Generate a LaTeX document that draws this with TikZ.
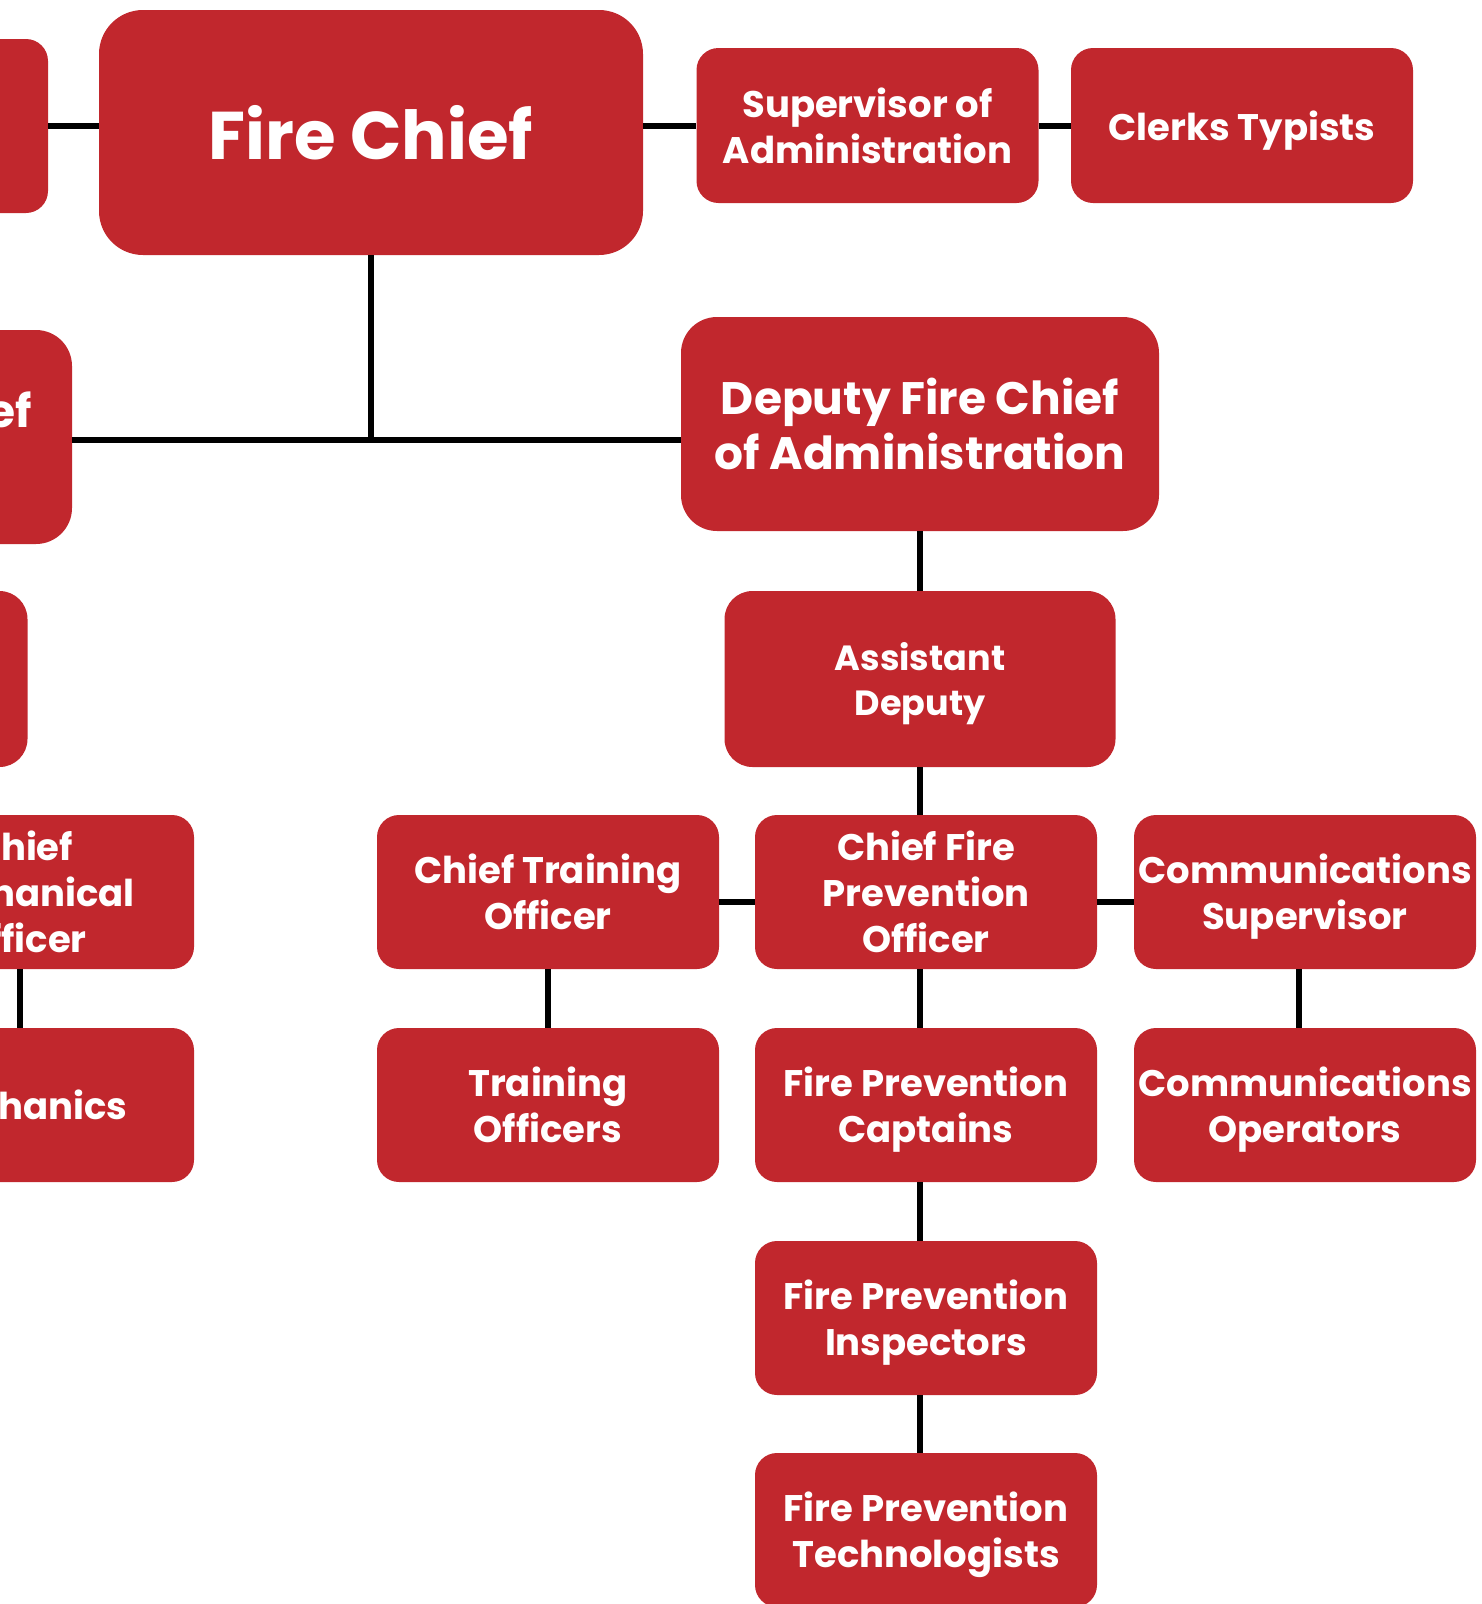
\documentclass[tikz,border=0pt]{standalone}
\usepackage{fontspec}
\setmainfont{Poppins}
\usetikzlibrary{positioning}
\definecolor{firered}{RGB}{193,39,45}

\begin{document}
\begin{tikzpicture}[
    x=1pt, y=-1pt,
    % Style definitions
    post/.style={
        rectangle, rounded corners=22pt, fill=firered, text=white,
        minimum width=342pt, minimum height=154pt, inner sep=0pt,
        text depth=0pt,
        font=\bfseries\fontsize{37}{46}\selectfont, align=center
    },
    office/.style={
        post, minimum height=155pt,
        font=\bfseries\fontsize{37}{46}\selectfont
    },
    chiefpost/.style={
        post, rounded corners=44pt,
        minimum width=544pt, minimum height=245pt,
        font=\bfseries\fontsize{67.5}{75}\selectfont
    },
    deputypost/.style={
        post, rounded corners=36pt,
        minimum width=478pt, minimum height=214pt,
        font=\bfseries\fontsize{45.5}{55}\selectfont
    },
    assistpost/.style={
        post, rounded corners=28pt,
        minimum width=391pt, minimum height=176pt,
        font=\bfseries\fontsize{35}{45}\selectfont
    },
    link/.style={
        line width=6pt, black
    },
]

% Canvas
\useasboundingbox (0,0) rectangle (1482,1604);
\clip (0,0) rectangle (1482,1604);

% Column positions
\def\colM{23}
\def\colA{548}
\def\colB{926}
\def\colC{1305}

% Row positions (top to bottom)
\def\rowC{892}
\def\rowD{1105}
\def\rowE{1318}
\def\rowF{1530}

% === Top row ===
\node[office, minimum height=174pt] (leftup) at (-123,126) {};
\node[chiefpost] (chief) at (371,132.5) {Fire Chief};
\node[office] (supadmin) at (867.5,125.5) {Supervisor of\\Administration};
\node[office] (clerks) at (1242,125.5) {Clerks Typists};

% === Deputies ===
\node[deputypost] (depops) at (-167,437) {Deputy Fire Chief\\of Operations};
\node[deputypost] (depadmin) at (920,424) {Deputy Fire Chief\\of Administration};

% === Assistants ===
\node[assistpost] (assistops) at (-168,679) {};
\node[assistpost] (assistadmin) at (920,679) {Assistant\\Deputy};

% === Officers ===
\node[post] (mech) at (\colM,\rowC) {Chief\\Mechanical\\Officer};
\node[post] (cto) at (\colA,\rowC) {Chief Training\\Officer};
\node[post] (cfpo) at (\colB,\rowC) {Chief Fire\\Prevention\\Officer};
\node[post] (comsup) at (\colC,\rowC) {Communications\\Supervisor};

% === Staff ===
\node[post] (mechanics) at (\colM,\rowD) {Mechanics};
\node[post] (trainers) at (\colA,\rowD) {Training\\Officers};
\node[post] (captains) at (\colB,\rowD) {Fire Prevention\\Captains};
\node[post] (operators) at (\colC,\rowD) {Communications\\Operators};
\node[post] (inspectors) at (\colB,\rowE) {Fire Prevention\\Inspectors};
\node[post] (technologists) at (\colB,\rowF) {Fire Prevention\\Technologists};

% === Connectors ===
\draw[link] (leftup.east) -- (chief.west |- leftup.east);
\draw[link] (chief.east |- supadmin.west) -- (supadmin.west);
\draw[link] (supadmin.east) -- (clerks.west);
\draw[link] (chief.south) -- (chief.south |- depops.east) -- ++(0,3);
\draw[link] ([yshift=-3pt]depops.east) -- ([yshift=-3pt]depadmin.west |- depops.east);
\draw[link] (depadmin.south) -- (assistadmin.north);
\draw[link] (assistadmin.south) -- (assistadmin.south |- cfpo.north);
\draw[link] ([yshift=-10pt]cto.east) -- ([yshift=-10pt]cfpo.west);
\draw[link] ([yshift=-10pt]cfpo.east) -- ([yshift=-10pt]comsup.west);
\draw[link] ([xshift=-3pt]mech.south) -- ([xshift=-3pt]mechanics.north);
\draw[link] (cto.south) -- (trainers.north);
\draw[link] ([xshift=-6pt]cfpo.south) -- ([xshift=-6pt]captains.north);
\draw[link] ([xshift=-6pt]captains.south) -- ([xshift=-6pt]inspectors.north);
\draw[link] ([xshift=-6pt]inspectors.south) -- ([xshift=-6pt]technologists.north);
\draw[link] ([xshift=-6pt]comsup.south) -- ([xshift=-6pt]operators.north);

\end{tikzpicture}
\end{document}
